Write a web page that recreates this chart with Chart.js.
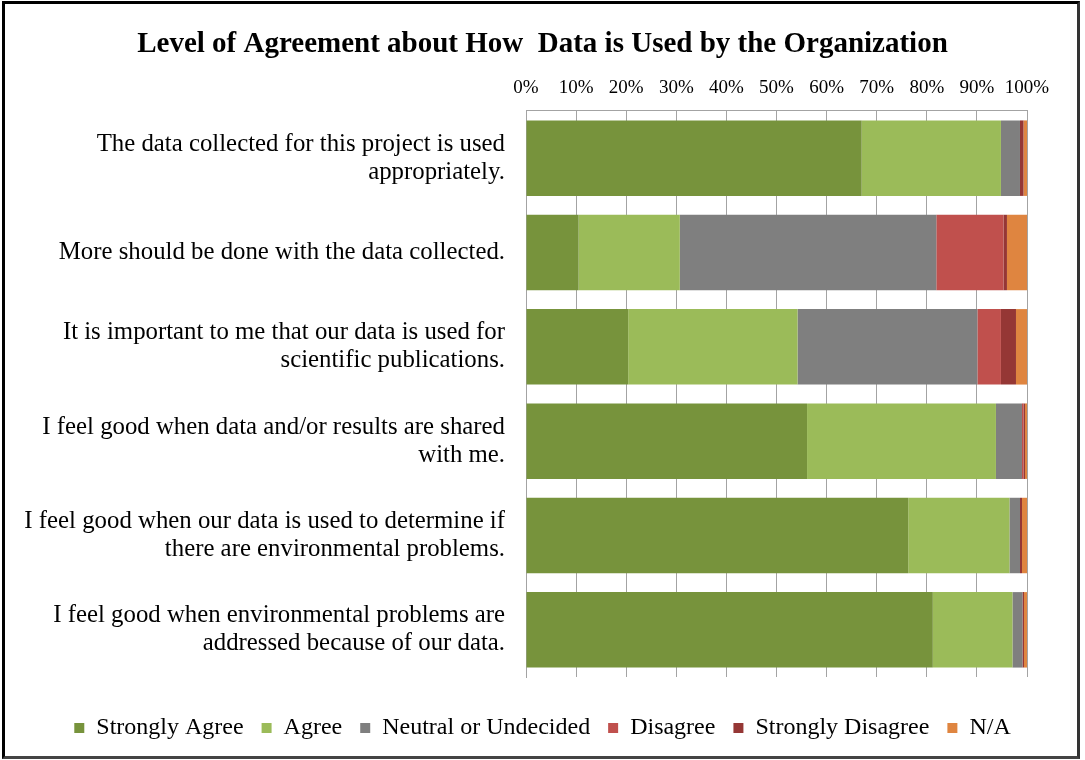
<!DOCTYPE html>
<html>
<head>
<meta charset="utf-8">
<script src="https://cdn.jsdelivr.net/npm/chart.js@4.4.1/dist/chart.umd.min.js"></script>
<style>
  html, body { margin: 0; padding: 0; background: #fff; }
  #frame {
    position: absolute; left: 0; top: 0;
    width: 1085px; height: 760px;
  }
  #border {
    position: absolute; left: 2px; top: 1px;
    width: 1072px; height: 752px;
    border: 3px solid #000;
    border-right-color: #333; border-bottom-color: #444;
    pointer-events: none;
  }
  canvas { position: absolute; left: 0; top: 0; }
</style>
</head>
<body>
<div id="frame">
  <canvas id="chart" width="1085" height="760"></canvas>
  <div id="border"></div>
</div>
<script>
// Survey statements (one bar each), wrapped the way they are printed
const statements = [
  ["The data collected for this project is used", "appropriately."],
  "More should be done with the data collected.",
  ["It is important to me that our data is used for", "scientific publications."],
  ["I feel good when data and/or results are shared", "with me."],
  ["I feel good when our data is used to determine if", "there are environmental problems."],
  ["I feel good when environmental problems are", "addressed because of our data."]
];

// Share of responses (%) per statement
const stronglyAgree    = [67.0, 10.5, 20.4, 56.1, 76.3, 81.2];
const agree            = [27.8, 20.2, 33.8, 37.7, 20.2, 15.9];
const neutral          = [ 3.8, 51.2, 35.9,  5.2,  2.1,  2.0];
const disagree         = [ 0.0, 13.4,  4.7,  0.3,  0.0,  0.0];
const stronglyDisagree = [ 0.7,  0.7,  3.0,  0.3,  0.4,  0.3];
const notApplicable    = [ 0.7,  4.0,  2.2,  0.4,  1.0,  0.6];

const percentTicks = [0, 10, 20, 30, 40, 50, 60, 70, 80, 90, 100];

const serif = "'Liberation Serif', 'Times New Roman', serif";

const seriesDefs = [
  ["Strongly Agree", stronglyAgree, "#77933C"],
  ["Agree", agree, "#9BBB59"],
  ["Neutral or Undecided", neutral, "#7F7F7F"],
  ["Disagree", disagree, "#C0504D"],
  ["Strongly Disagree", stronglyDisagree, "#953735"],
  ["N/A", notApplicable, "#DF8540"]
];

const datasets = seriesDefs.map(([label, data, color]) => ({
  label, data,
  backgroundColor: color,
  borderWidth: 0,
  categoryPercentage: 0.8,
  barPercentage: 1.0
}));

// Centre the title and legend on the whole canvas rather than on the
// area left over by the right-hand padding.
const centreOnCanvas = {
  id: "centreOnCanvas",
  afterLayout(chart) {
    if (chart.titleBlock) chart.titleBlock.right = chart.width;
    if (chart.legend) chart.legend.right = chart.width;
  }
};

new Chart(document.getElementById("chart"), {
  type: "bar",
  data: { labels: statements, datasets },
  plugins: [centreOnCanvas],
  options: {
    indexAxis: "y",
    responsive: false,
    animation: false,
    events: [],
    layout: { padding: { left: 0, right: 58, top: 0, bottom: 10 } },
    scales: {
      x: {
        position: "top",
        stacked: true,
        min: 0, max: 100,
        afterBuildTicks: (scale) => { scale.ticks = percentTicks.map(v => ({ value: v })); },
        ticks: {
          callback: (v) => v + "%",
          color: "#000",
          padding: 12,
          maxRotation: 0,
          autoSkip: false,
          font: { family: serif, size: 19 }
        },
        grid: { color: "#A3A3A3", lineWidth: 1, drawTicks: false },
        border: { display: true, color: "#A3A3A3", width: 1 }
      },
      y: {
        stacked: true,
        afterFit: (scale) => { scale.width = 526; },
        ticks: {
          color: "#000",
          padding: 21,
          autoSkip: false,
          font: { family: serif, size: 24.8, lineHeight: 1.129 }
        },
        grid: { display: false, drawTicks: false },
        border: { display: true, color: "#A3A3A3", width: 1 }
      }
    },
    plugins: {
      title: {
        display: true,
        text: "Level of Agreement about How  Data is Used by the Organization",
        color: "#000",
        font: { family: serif, size: 29, weight: "bold" },
        padding: { top: 27, bottom: 2.4 }
      },
      legend: {
        position: "bottom",
        // empty heading used only as spacing above the legend row
        title: { display: true, text: "", padding: 0, font: { size: 12, lineHeight: 1.75 } },
        labels: {
          color: "#000",
          boxWidth: 10,
          boxHeight: 10,
          padding: 18,
          font: { family: serif, size: 24 }
        }
      },
      tooltip: { enabled: false }
    }
  }
});
</script>
</body>
</html>
